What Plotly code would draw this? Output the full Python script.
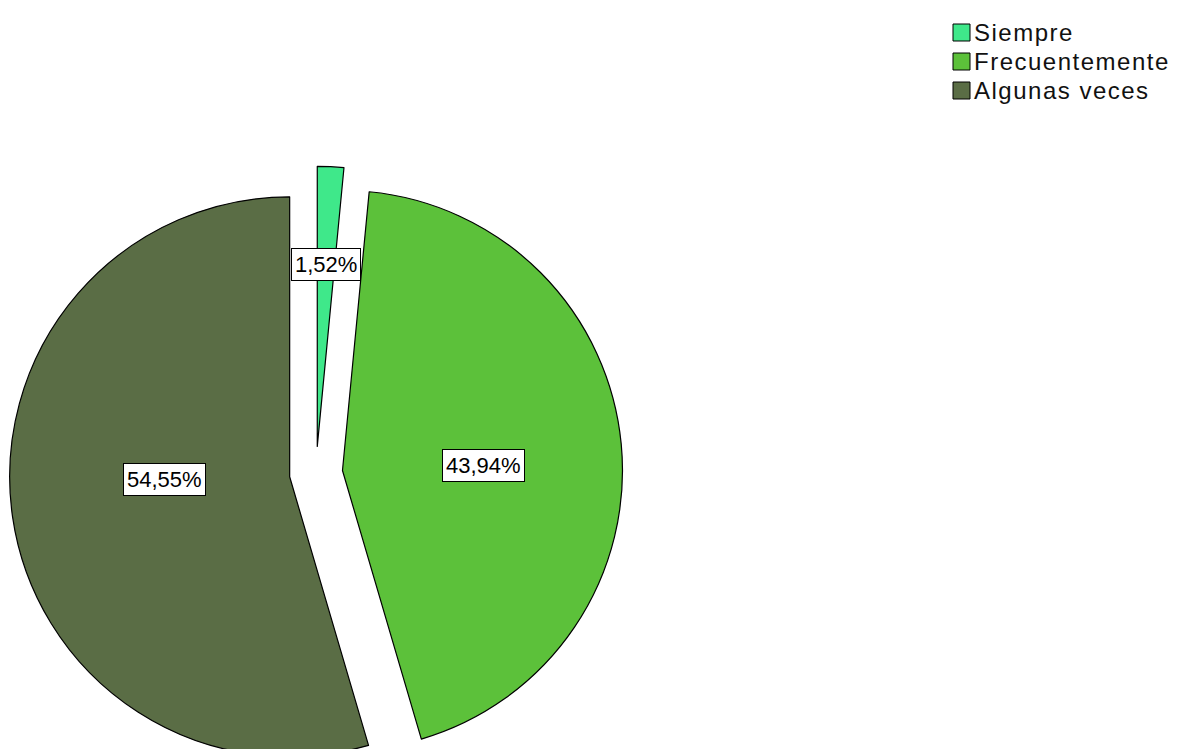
import math
import plotly.graph_objects as go

# Data
categories = ["Siempre", "Frecuentemente", "Algunas veces"]
percentages = [1.52, 43.94, 54.55]
colors = ["#3fe88a", "#5cc13a", "#5a6d45"]

# Figure geometry (pixels)
W, H = 1177, 780
cx, cy = 316, 473          # pie centre
radius = 280               # slice radius
pull = 0.095               # explode distance as fraction of radius
# label placement: (distance from slice apex / radius, angular shift in degrees)
label_place = [(0.649, 0.0), (0.505, 3.0), (0.445, 5.9)]
half = radius * (1 + pull)
FONT = "Liberation Sans, Arial, sans-serif"


def px_x(x):
    return x / W


def px_y(y):
    return 1 - y / H


fig = go.Figure(
    go.Pie(
        labels=categories,
        values=percentages,
        sort=False,
        direction="clockwise",
        rotation=0,
        pull=[pull] * len(percentages),
        marker=dict(colors=colors, line=dict(color="black", width=1.2)),
        textinfo="none",
        hoverinfo="label+percent",
        showlegend=False,
        domain=dict(x=[px_x(cx - half), px_x(cx + half)],
                    y=[px_y(cy + half), px_y(cy - half)]),
    )
)

# Percentage labels in boxed annotations
total = sum(percentages)
cum = 0.0
annotations = []
for p, (depth, shift) in zip(percentages, label_place):
    mid = (cum + p / 2) / total * 2 * math.pi
    cum += p
    ang = mid + math.radians(shift)
    dist = radius * (pull + depth)
    lx = cx + dist * math.sin(ang)
    ly = cy - dist * math.cos(ang)
    annotations.append(dict(
        x=px_x(lx), y=px_y(ly), xref="paper", yref="paper",
        text=f"{p:.2f}%".replace(".", ","), showarrow=False,
        font=dict(family=FONT, size=22, color="black"),
        bgcolor="white", bordercolor="black", borderwidth=1, borderpad=3,
        xanchor="center", yanchor="middle",
    ))

# Legend: swatches and category names
leg_x, leg_y0, leg_step, sw = 953, 32.5, 29, 17
shapes = []
for i, (name, col) in enumerate(zip(categories, colors)):
    yc = leg_y0 + i * leg_step
    shapes.append(dict(
        type="rect", xref="paper", yref="paper",
        x0=px_x(leg_x), x1=px_x(leg_x + sw),
        y0=px_y(yc + sw / 2), y1=px_y(yc - sw / 2),
        fillcolor=col, line=dict(color="black", width=1),
    ))
    annotations.append(dict(
        x=px_x(leg_x + sw + 2), y=px_y(yc), xref="paper", yref="paper",
        text=f'<span style="letter-spacing:1.5px">{name}</span>',
        showarrow=False, xanchor="left", yanchor="middle",
        font=dict(family=FONT, size=24, color="#111111"),
    ))

fig.update_layout(
    width=W, height=H,
    margin=dict(l=0, r=0, t=0, b=0),
    paper_bgcolor="white", plot_bgcolor="white",
    annotations=annotations, shapes=shapes,
    showlegend=False,
)

fig.write_html(
    "out.html",
    post_script="document.documentElement.style.overflow='hidden';"
                "document.body.style.overflow='hidden';document.body.style.margin='0';",
)
